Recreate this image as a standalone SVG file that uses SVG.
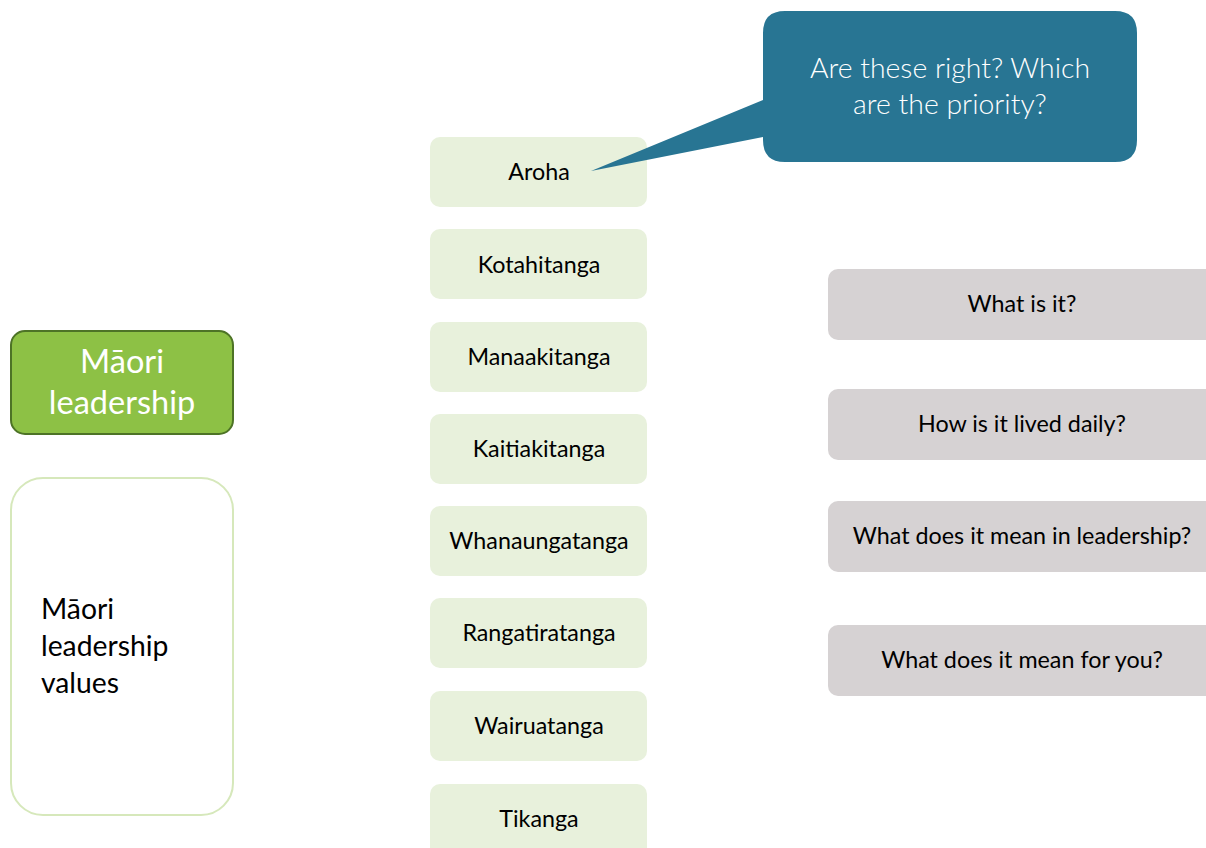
<svg xmlns="http://www.w3.org/2000/svg" width="1206" height="848" viewBox="0 0 1206 848">
<style>
text{font-family:Lato,"Open Sans","Liberation Sans",sans-serif}
.val rect{fill:#e8f1dc}
.val text{font-size:23.3px;fill:#000;text-anchor:middle}
.q rect{fill:#d6d2d3}
.q text{font-size:23.3px;fill:#000;text-anchor:middle}
</style>
<rect width="1206" height="848" fill="#fff"/>
<g id="maori-leadership">
<rect x="11" y="331" width="222" height="103" rx="14" fill="#8dc145" stroke="#4d7326" stroke-width="2"/>
<text x="122" y="373" font-size="32.5" fill="#fff" text-anchor="middle">Māori</text>
<text x="122" y="414" font-size="32.5" fill="#fff" text-anchor="middle">leadership</text>
</g>
<g id="values-box">
<rect x="11" y="478" width="222" height="337" rx="32" fill="#fff" stroke="#d6e8bb" stroke-width="2"/>
<text x="41" y="619" font-size="28.3" fill="#000">Māori</text>
<text x="41" y="656" font-size="28.3" fill="#000">leadership</text>
<text x="41" y="693" font-size="28.3" fill="#000">values</text>
</g>
<g id="aroha" class="val"><rect x="430" y="137" width="217" height="70" rx="10"/><text x="539" y="180">Aroha</text></g>
<g id="kotahitanga" class="val"><rect x="430" y="229" width="217" height="70" rx="10"/><text x="539" y="273">Kotahitanga</text></g>
<g id="manaakitanga" class="val"><rect x="430" y="322" width="217" height="70" rx="10"/><text x="539" y="365">Manaakitanga</text></g>
<g id="kaitiakitanga" class="val"><rect x="430" y="414" width="217" height="70" rx="10"/><text x="539" y="457">Kaitiakitanga</text></g>
<g id="whanaungatanga" class="val"><rect x="430" y="506" width="217" height="70" rx="10"/><text x="539" y="549">Whanaungatanga</text></g>
<g id="rangatiratanga" class="val"><rect x="430" y="598" width="217" height="70" rx="10"/><text x="539" y="641">Rangatiratanga</text></g>
<g id="wairuatanga" class="val"><rect x="430" y="691" width="217" height="70" rx="10"/><text x="539" y="734">Wairuatanga</text></g>
<g id="tikanga" class="val"><rect x="430" y="784" width="217" height="80" rx="10"/><text x="539" y="827">Tikanga</text></g>
<g id="q1" class="q"><rect x="828" y="269" width="400" height="71" rx="10"/><text x="1022" y="312">What is it?</text></g>
<g id="q2" class="q"><rect x="828" y="389" width="400" height="71" rx="10"/><text x="1022" y="432">How is it lived daily?</text></g>
<g id="q3" class="q"><rect x="828" y="501" width="400" height="71" rx="10"/><text x="1022" y="544">What does it mean in leadership?</text></g>
<g id="q4" class="q"><rect x="828" y="625" width="400" height="71" rx="10"/><text x="1022" y="668">What does it mean for you?</text></g>
<g id="callout">
<path d="M785,11 H1115 Q1137,11 1137,33 V140 Q1137,162 1115,162 H785 Q763,162 763,140 V137 L591,171 L763,100 V33 Q763,11 785,11 Z" fill="#287593"/>
<text x="950" y="78" font-size="28.4" font-weight="300" fill="#fff" text-anchor="middle">Are these right? Which</text>
<text x="950" y="114" font-size="28.4" font-weight="300" fill="#fff" text-anchor="middle">are the priority?</text>
</g>
<g id="connectors"></g>
</svg>
